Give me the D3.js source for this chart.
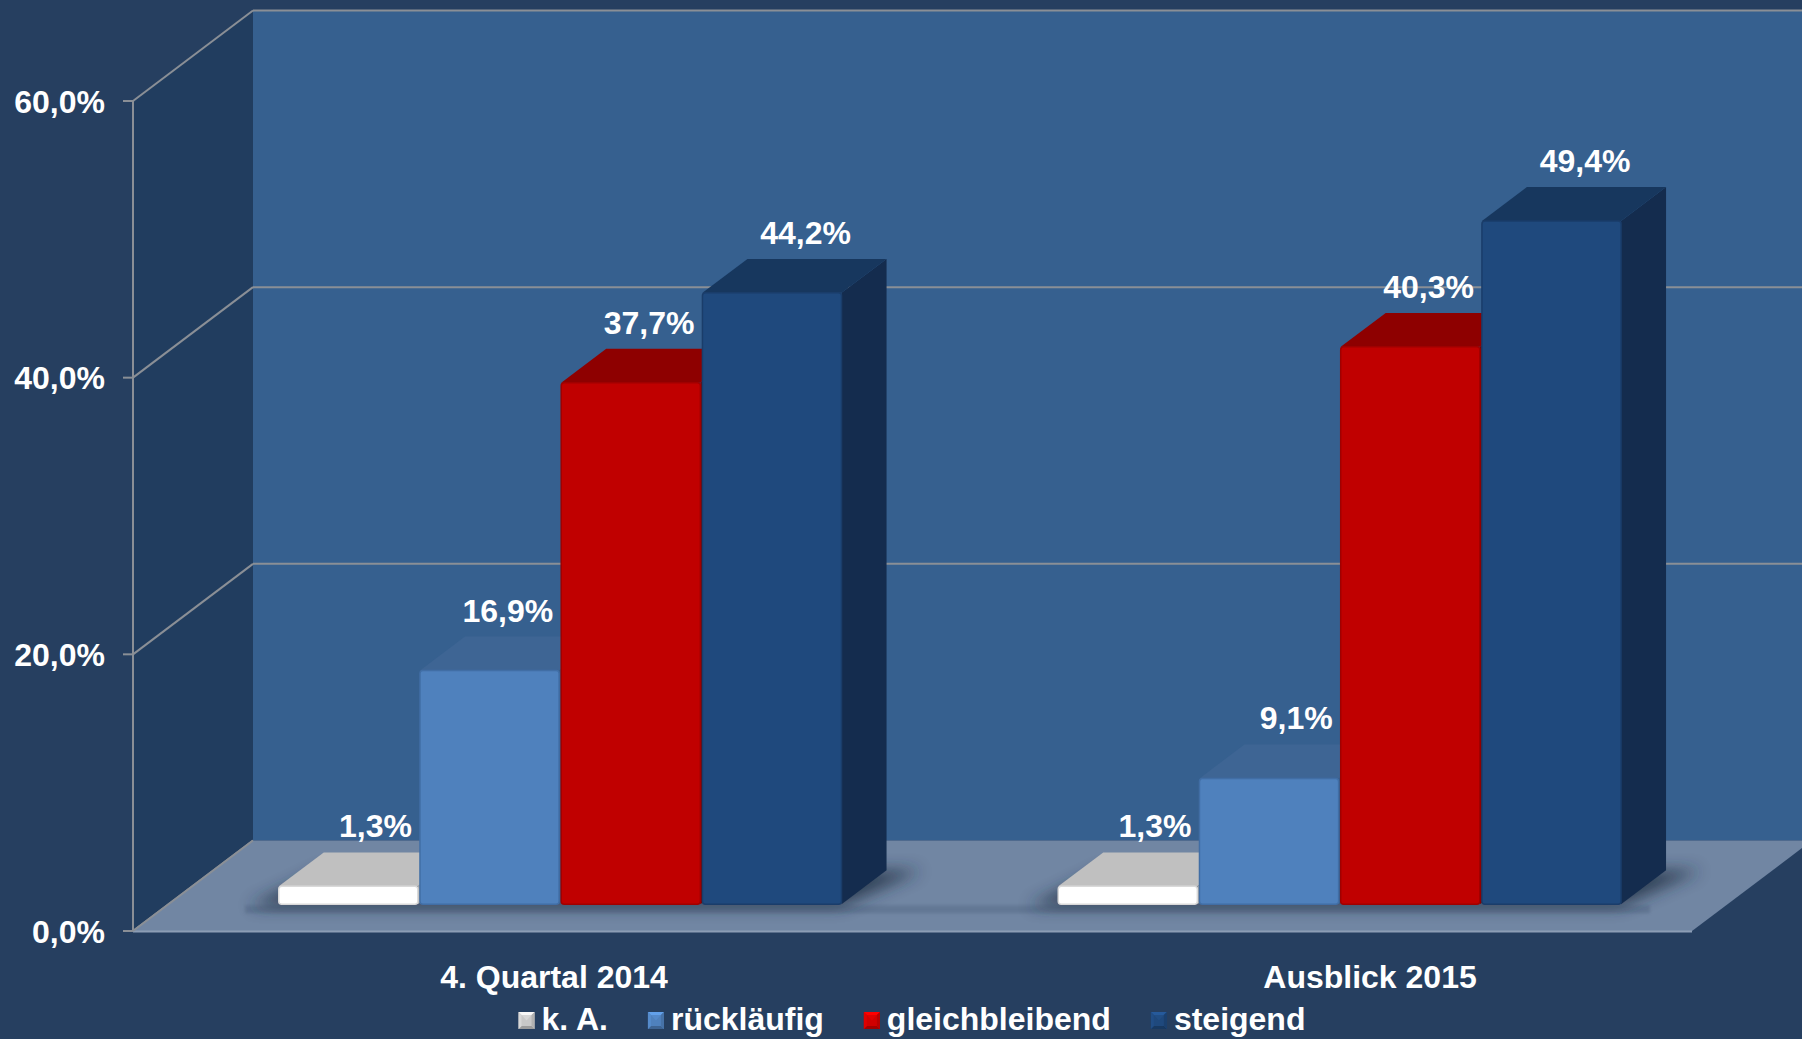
<!DOCTYPE html>
<html><head><meta charset="utf-8">
<script src="https://cdn.jsdelivr.net/npm/d3@7"></script>
<style>html,body{margin:0;padding:0;background:#263f60;overflow:hidden}svg{display:block}</style>
</head><body>
<svg id="c" width="1802" height="1039"></svg>
<script>
// ---------- data ----------
const categories = ["4. Quartal 2014", "Ausblick 2015"];
const seriesNames = ["k. A.", "rückläufig", "gleichbleibend", "steigend"];
const valuesKA = [1.3, 1.3];
const valuesRuecklaeufig = [16.9, 9.1];
const valuesGleichbleibend = [37.7, 40.3];
const valuesSteigend = [44.2, 49.4];
const yTickValues = [0, 20, 40, 60];
const yTickLabels = ["0,0%", "20,0%", "40,0%", "60,0%"];

const seriesValues = [valuesKA, valuesRuecklaeufig, valuesGleichbleibend, valuesSteigend];
const seriesFront = ["#ffffff", "#4f81bd", "#c00000", "#1f497d"];
const seriesTop   = ["#c0c0c0", "#3e6594", "#8e0000", "#17375e"];
const seriesSide  = ["#a6a6a6", "#385d8a", "#7a0000", "#142c4e"];
const seriesEdge  = ["#d9d9d9", "#416ea5", "#a00000", "#1a3d6a"];
const legendBase  = ["#c8c8c8", "#4f81bd", "#d00000", "#1f497d"];

// ---------- geometry ----------
const W = 1802, H = 1039;
const FX0 = 133, FX1 = 1692;          // front edge of floor
const DEPTH_X = 120, DEPTH_Y = 90.5;  // oblique depth offset
const ZF = 0.295, ZB = 0.67;          // bar front / back depth fraction
const FONT = "'Liberation Sans', Arial, sans-serif";

const y = d3.scaleLinear().domain([0, 60]).range([931, 101]);
const depth = d3.scaleLinear().domain([0, 1]).range([0, 1]);
const proj = (px, py, z) => [px + depth(z) * DEPTH_X, py - depth(z) * DEPTH_Y];

const gx = d3.scaleBand().domain(categories).range([FX0 + 2, FX1 + 2]).paddingInner(0.278).paddingOuter(0.139);
const sx = d3.scaleBand().domain(seriesNames).range([0, gx.bandwidth()]).paddingInner(0.015);
const labelX = d3.scaleBand().domain(categories).range([146, 1778]);

const fmt = v => d3.format(".1f")(v).replace(".", ",") + "%";

const svg = d3.select("#c");
const defs = svg.append("defs");
const blur = defs.append("filter").attr("id", "blur").attr("x", "-30%").attr("y", "-60%").attr("width", "160%").attr("height", "220%");
blur.append("feGaussianBlur").attr("stdDeviation", 8);
const blur2 = defs.append("filter").attr("id", "blur2").attr("x", "-10%").attr("y", "-100%").attr("width", "120%").attr("height", "300%");
blur2.append("feGaussianBlur").attr("stdDeviation", 1.5);

svg.append("rect").attr("width", W).attr("height", H).attr("fill", "#263f60");

const line = d3.line();
const poly = pts => "M" + pts.map(p => p.join(",")).join("L") + "Z";

// back wall
const [bx0, byTop] = proj(FX0, y(60), 1);
const [, byBot] = proj(FX0, y(0), 1);
svg.append("rect").attr("x", bx0).attr("y", byTop).attr("width", W - bx0).attr("height", byBot - byTop).attr("fill", "#36608f");

// back gridlines
yTickValues.filter(v => v > 0).forEach(v => {
  const [x0b, yb] = proj(FX0, y(v), 1);
  svg.append("line").attr("x1", x0b).attr("x2", W).attr("y1", yb).attr("y2", yb)
    .attr("stroke", "#8a8f96").attr("stroke-width", 2);
});

// left wall
svg.append("path").attr("d", poly([[FX0, y(60)], proj(FX0, y(60), 1), proj(FX0, y(0), 1), [FX0, y(0)]]))
  .attr("fill", "#213d5f");
yTickValues.forEach(v => {
  svg.append("path").attr("d", line([[FX0, y(v)], proj(FX0, y(v), 1)]))
    .attr("stroke", "#8a8f96").attr("stroke-width", 2).attr("fill", "none");
});

// floor
svg.append("path").attr("d", poly([[FX0, y(0)], [FX1, y(0)], proj(FX1, y(0), 1), proj(FX0, y(0), 1)]))
  .attr("fill", "#7186a3");
svg.append("line").attr("x1", FX0).attr("x2", FX1).attr("y1", y(0) + 0.5).attr("y2", y(0) + 0.5)
  .attr("stroke", "#8c9db5").attr("stroke-width", 2);
svg.append("path").attr("d", line([[FX0, y(0)], proj(FX0, y(0), 1)]))
  .attr("stroke", "#8a8f96").attr("stroke-width", 2).attr("fill", "none");

// floor shadow strip below the bars
const [, stripY] = proj(FX0, y(0), ZF);
const stripX0 = 245;
svg.append("rect").attr("x", stripX0).attr("y", stripY + 1).attr("width", 1650 - stripX0).attr("height", 8)
  .attr("fill", "#4a5d7a").attr("opacity", 0.35).attr("filter", "url(#blur2)");

// bars
const barsG = svg.append("g");
categories.forEach((cat, ci) => {
  const gLeft = gx(cat);
  const gRight = gLeft + gx.bandwidth();
  // group shadow footprint
  const sh = [proj(gLeft - 30, y(0) + 2, ZF), proj(gRight, y(0) + 2, ZF), proj(gRight + 35, y(0), ZB), proj(gLeft, y(0), ZB)];
  barsG.append("path").attr("d", poly(sh)).attr("fill", "#1c2a3d").attr("opacity", 0.75).attr("filter", "url(#blur)");

  seriesNames.forEach((s, si) => {
    const v = seriesValues[si][ci];
    const x0 = gLeft + sx(s);
    const w = sx.bandwidth();
    const [fx, fyTop] = proj(x0, y(v), ZF);
    const [, fyBot] = proj(x0, y(0), ZF);
    const bdx = (ZB - ZF) * DEPTH_X, bdy = (ZB - ZF) * DEPTH_Y;
    const g = barsG.append("g");
    g.append("path").attr("d", poly([[fx + w, fyTop], [fx + w + bdx, fyTop - bdy], [fx + w + bdx, fyBot - bdy], [fx + w, fyBot]]))
      .attr("fill", seriesSide[si]);
    g.append("path").attr("d", poly([[fx, fyTop], [fx + w, fyTop], [fx + w + bdx, fyTop - bdy], [fx + bdx, fyTop - bdy]]))
      .attr("fill", seriesTop[si]);
    g.append("rect").attr("x", fx).attr("y", fyTop).attr("width", w).attr("height", fyBot - fyTop)
      .attr("rx", 3).attr("fill", seriesFront[si]).attr("stroke", seriesEdge[si]).attr("stroke-width", 1.5);
  });
});

// data labels
const labelsG = svg.append("g");
categories.forEach((cat, ci) => {
  seriesNames.forEach((s, si) => {
    const v = seriesValues[si][ci];
    const x0 = gx(cat) + sx(s);
    const w = sx.bandwidth();
    const [fx, fyTop] = proj(x0, y(v), ZF);
    const backTop = fyTop - (ZB - ZF) * DEPTH_Y;
    const t = labelsG.append("text").text(fmt(v))
      .attr("font-family", FONT).attr("font-weight", "bold").attr("font-size", 32)
      .attr("fill", "#ffffff").attr("text-anchor", "middle").attr("y", backTop - 15);
    const tw = t.node().getComputedTextLength();
    let cx = fx + w / 2 + 0.28 * DEPTH_X;
    if (si < seriesNames.length - 1) {
      const nextLeft = proj(gx(cat) + sx(seriesNames[si + 1]), 0, ZF)[0];
      cx = Math.min(cx, nextLeft - 8 - tw / 2);
    }
    t.attr("x", cx);
  });
});

// front axis
svg.append("line").attr("x1", FX0).attr("x2", FX0).attr("y1", y(60)).attr("y2", y(0))
  .attr("stroke", "#8a8f96").attr("stroke-width", 2);
yTickValues.forEach((v, i) => {
  svg.append("line").attr("x1", FX0 - 10).attr("x2", FX0).attr("y1", y(v)).attr("y2", y(v))
    .attr("stroke", "#8a8f96").attr("stroke-width", 2);
  svg.append("text").text(yTickLabels[i]).attr("x", 105).attr("y", y(v) + 11.5)
    .attr("text-anchor", "end").attr("font-family", FONT).attr("font-weight", "bold").attr("font-size", 32)
    .attr("fill", "#ffffff");
});

// category labels
categories.forEach(cat => {
  svg.append("text").text(cat).attr("x", labelX(cat) + labelX.bandwidth() / 2).attr("y", 988)
    .attr("text-anchor", "middle").attr("font-family", FONT).attr("font-weight", "bold").attr("font-size", 32)
    .attr("fill", "#ffffff");
});

// legend
const leg = svg.append("g");
let lx = 0;
const MW = 16, MH = 17, B = 3;
seriesNames.forEach((s, i) => {
  const item = leg.append("g").attr("transform", `translate(${lx},0)`);
  const base = d3.color(legendBase[i]);
  const m = item.append("g").attr("transform", `translate(0,${-MH - 1})`);
  m.append("rect").attr("width", MW).attr("height", MH).attr("fill", base);
  m.append("path").attr("d", poly([[0, 0], [MW, 0], [MW - B, B], [B, B]])).attr("fill", base.brighter(0.6));
  m.append("path").attr("d", poly([[0, MH], [MW, MH], [MW - B, MH - B], [B, MH - B]])).attr("fill", base.darker(0.7));
  m.append("path").attr("d", poly([[0, 0], [B, B], [B, MH - B], [0, MH]])).attr("fill", base.brighter(0.2));
  m.append("path").attr("d", poly([[MW, 0], [MW - B, B], [MW - B, MH - B], [MW, MH]])).attr("fill", base.darker(0.35));
  m.append("path").attr("d", poly([[B, B], [MW - B, B], [MW / 2, MH / 2]])).attr("fill", base.brighter(0.3)).attr("opacity", 0.6);
  const t = item.append("text").text(s).attr("x", 23).attr("y", 0)
    .attr("font-family", FONT).attr("font-weight", "bold").attr("font-size", 32).attr("fill", "#ffffff");
  lx += 23 + t.node().getComputedTextLength() + 40;
});
const legW = lx - 40;
leg.attr("transform", `translate(${912 - legW / 2},1030)`);
</script>
</body></html>
